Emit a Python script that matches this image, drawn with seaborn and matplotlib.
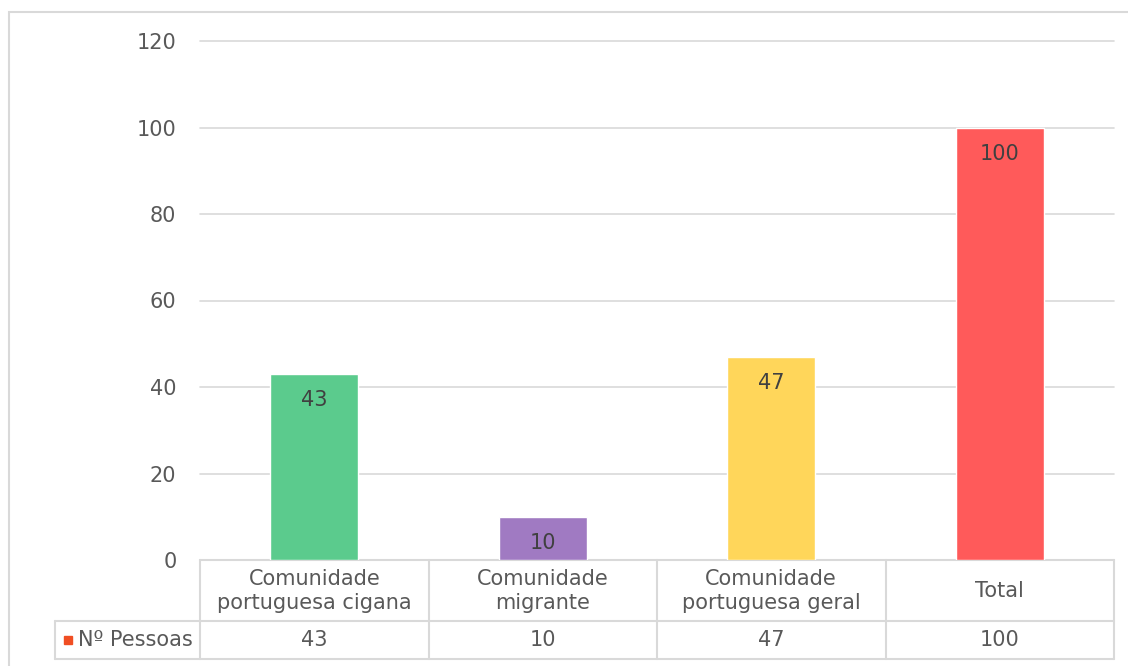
import matplotlib
matplotlib.use('Agg')
import matplotlib.pyplot as plt
import seaborn as sns
import pandas as pd
from matplotlib.patches import Rectangle

# dados
categorias = ['Comunidade\nportuguesa cigana', 'Comunidade\nmigrante',
              'Comunidade\nportuguesa geral', 'Total']
pessoas = [43, 10, 47, 100]
serie = 'Nº Pessoas'
cores = ['#5BCB8D', '#A07AC2', '#FFD65A', '#FF5A5A']
yticks = [0, 20, 40, 60, 80, 100, 120]

df = pd.DataFrame({'categoria': categorias, 'valor': pessoas})

sns.set_style('white')
plt.rcParams['font.family'] = ['DejaVu Sans']

cinza_txt = '#595959'
cinza_lin = '#D9D9D9'
fs = 15

fig = plt.figure(figsize=(11.28, 6.66), dpi=100)
W, H = 1128, 666
# area do grafico em pixels: x 200-1114, y 41-560
ax = fig.add_axes([200 / W, 1 - 560 / H, 914 / W, 519 / H])

sns.barplot(data=df, x='categoria', y='valor', hue='categoria',
            palette=cores, width=0.385, legend=False, ax=ax,
            saturation=1, zorder=3)

ax.set_ylim(0, 120)
ax.set_xlim(-0.5, 3.5)
ax.set_yticks(yticks)
ax.set_yticklabels([str(t) for t in yticks], fontsize=fs, color=cinza_txt)
ax.tick_params(axis='y', length=0, pad=17)
ax.set_xticks([])
ax.set_xlabel('')
ax.set_ylabel('')
for s in ax.spines.values():
    s.set_visible(False)
ax.yaxis.grid(True, color=cinza_lin, lw=1.2, zorder=0)
for gl in ax.get_ygridlines():
    gl.set_clip_on(False)
ax.set_axisbelow(True)

# rotulos dentro das barras
for c in ax.containers:
    ax.bar_label(c, padding=-26, fontsize=fs, color='#404040')

# tabela de dados em baixo
tr = ax.get_xaxis_transform()
ppx = 1 / 519  # um pixel em fracao do eixo (vertical)
y_meio = -61 * ppx
y_fim = -99 * ppx
x_esq = -0.5 - 145 / 914 * 4

kw = dict(color=cinza_lin, lw=1.5, clip_on=False, transform=tr)
ax.plot([-0.5, 3.5], [0, 0], **kw)
ax.plot([x_esq, 3.5], [y_meio, y_meio], **kw)
ax.plot([x_esq, 3.5], [y_fim, y_fim], **kw)
for xb in [-0.5, 0.5, 1.5, 2.5, 3.5]:
    ax.plot([xb, xb], [0, y_fim], **kw)
ax.plot([x_esq, x_esq], [y_meio, y_fim], **kw)

for i, (cat, v) in enumerate(zip(categorias, pessoas)):
    ax.text(i, -31 * ppx, cat, transform=tr, ha='center', va='center',
            fontsize=fs, color=cinza_txt, linespacing=1.3)
    ax.text(i, -80 * ppx, str(v), transform=tr, ha='center', va='center',
            fontsize=fs, color=cinza_txt)

ax.text(-0.5 - 122 / 914 * 4, -80 * ppx, serie, transform=tr, ha='left',
        va='center', fontsize=fs, color=cinza_txt)
ax.add_patch(Rectangle((-0.5 - 136 / 914 * 4, -84 * ppx), 8 / 914 * 4, 8 * ppx,
                       transform=tr, color='#F04E23', clip_on=False))

# moldura do grafico
fig.patches.append(Rectangle((9 / W, -0.1), 1.2, (H - 12) / H + 0.1,
                             transform=fig.transFigure, fill=False,
                             edgecolor=cinza_lin, lw=1.5))

fig.savefig('out.png', dpi=100)
